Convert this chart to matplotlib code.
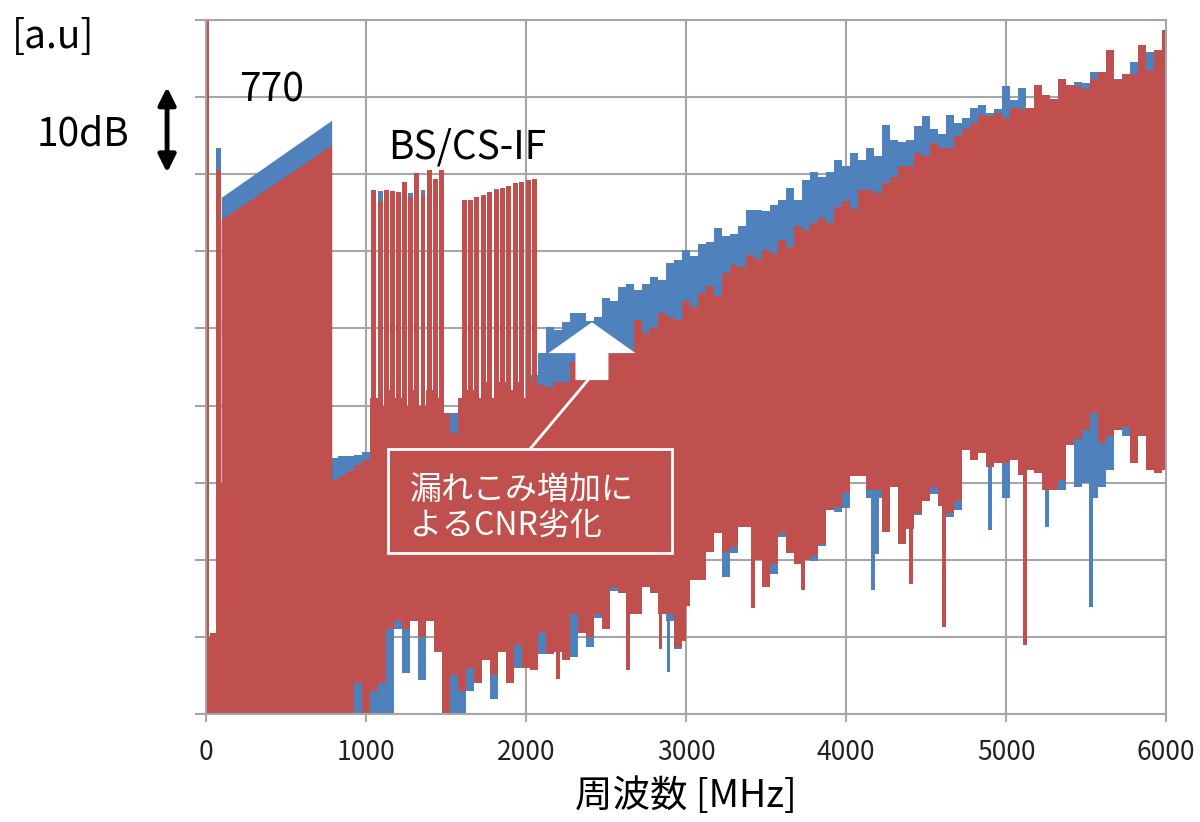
import matplotlib
matplotlib.use("Agg")
import matplotlib.pyplot as plt
import matplotlib.transforms as mtransforms
from matplotlib.patches import FancyArrow, Rectangle
import numpy as np

plt.rcParams["font.family"] = ["Noto Sans CJK JP", "DejaVu Sans"]

BLUE = "#4f81bd"
RED = "#c0504d"
GRID = "#a6a6a6"
FLOOR = -3  # fills start below the axis bottom

# broadband envelope read every 50 MHz (dB, arbitrary reference)
freq_mhz = [
    0, 50, 100, 150, 200, 250, 300, 350, 400, 450,
    500, 550, 600, 650, 700, 750, 800, 850, 900, 950,
    1000, 1050, 1100, 1150, 1200, 1250, 1300, 1350, 1400, 1450,
    1500, 1550, 1600, 1650, 1700, 1750, 1800, 1850, 1900, 1950,
    2000, 2050, 2100, 2150, 2200, 2250, 2300, 2350, 2400, 2450,
    2500, 2550, 2600, 2650, 2700, 2750, 2800, 2850, 2900, 2950,
    3000, 3050, 3100, 3150, 3200, 3250, 3300, 3350, 3400, 3450,
    3500, 3550, 3600, 3650, 3700, 3750, 3800, 3850, 3900, 3950,
    4000, 4050, 4100, 4150, 4200, 4250, 4300, 4350, 4400, 4450,
    4500, 4550, 4600, 4650, 4700, 4750, 4800, 4850, 4900, 4950,
    5000, 5050, 5100, 5150, 5200, 5250, 5300, 5350, 5400, 5450,
    5500, 5550, 5600, 5650, 5700, 5750, 5800, 5850, 5900, 5950,
    6000,
]

red_hi = [
    10, 10.5, 30, 30, 30, 30, 30, 30, 30, 30,
    30, 30, 30, 30, 30, 30, 30.3, 30.8, 31.5, 32.3,
    33, 41, 40, 42, 41, 40, 42, 40, 42, 41,
    39, 36.5, 41, 42, 41, 43, 41, 43, 42, 43,
    41, 43, 42.7, 42.4, 43, 43, 45.6, 45.4, 46, 46.4,
    46.6, 46.8, 46.8, 47.2, 51.1, 49.4, 50.2, 52, 51.5, 51.1,
    53.5, 52.8, 54.6, 55.5, 54.2, 57.2, 58.2, 58, 59.5, 59,
    60.2, 59.8, 61.5, 60.6, 63.3, 62.8, 63.7, 64.3, 63.7, 65.8,
    66.5, 65.5, 68, 68, 67.6, 68.8, 69.7, 71, 71, 72.7,
    72.3, 74, 73.4, 73.4, 74.9, 75.8, 76.6, 77.7, 77.5, 77.9,
    77.3, 78.6, 78.4, 78.6, 81.6, 80.3, 79.8, 82.4, 81.6, 81.4,
    81, 82.4, 83.2, 86.1, 82.2, 83, 83, 86.8, 83.5, 86.1,
    88.7,
]

red_lo = [
    -3, -3, -3, -3, -3, -3, -3, -3, -3, -3,
    -3, -3, -3, -3, -3, -3, -3, -3, -3, 4,
    -3, 3, 4, 11, 12, 11, 12, 10, 12, 8,
    -3, 5, 3, 6, 4, 7, 5, 8, 4, 9,
    6, 5.7, 10.5, 7.8, 8, 7, 13, 10.5, 10, 13,
    11, 16.5, 15.7, 13, 13, 16.5, 15.7, 13, 13, 8.7,
    14, 17.4, 17.4, 21, 23.5, 21, 21.7, 24.3, 24.3, 20,
    16.5, 19.4, 23.5, 20.9, 19.4, 20, 20.5, 22, 26.4, 26.8,
    28.6, 30.8, 30.8, 29, 29, 23.6, 29.5, 22.1, 24, 26,
    27.6, 29.5, 27, 26, 27.6, 34.2, 32.9, 33.8, 32, 32.5,
    32.5, 33, 31, 31.6, 31.2, 29, 29, 30.4, 34.9, 35.6,
    36.8, 39, 35.1, 36, 36.8, 37.2, 32.5, 36, 31.6, 31.2,
    31.6,
]

blue_hi = [
    9, 9.5, 30, 30, 30, 30, 30, 30, 30, 30,
    30, 30, 30, 30, 30, 30, 33.2, 33.4, 33.5, 33.6,
    34, 40, 39, 41, 40, 39, 41, 39, 41, 40,
    38, 39, 40, 41, 40, 42, 40, 42, 41, 42,
    40, 44, 46.8, 50.2, 49.8, 50.8, 52, 52, 51, 51.5,
    54, 53.6, 55.4, 55.8, 55, 55.8, 56.7, 56.3, 58.5, 58.9,
    60.2, 59.4, 61, 61.2, 63, 62, 62.3, 63.3, 65.4, 65.4,
    65.2, 66, 66.7, 68.2, 66.7, 69.2, 70.3, 69.6, 70.3, 71.8,
    71, 72.7, 71.9, 73.4, 72.3, 76.4, 74.4, 74.2, 74.4, 76.2,
    77.5, 75.8, 75.2, 77.7, 76.6, 77.3, 78.6, 79, 78, 78.4,
    81.4, 79.6, 81.2, 78.4, 79.4, 80, 79.8, 81.2, 81.2, 82,
    81.8, 83.3, 81.4, 82.7, 82.4, 83, 84.6, 83.5, 85.9, 84.6,
    85.2,
]

blue_lo = [
    -3, -3, -3, -3, -3, -3, -3, -3, -3, -3,
    -3, -3, -3, -3, -3, -3, -3, -3, -3, -3,
    -3, -3, -3, -3, 11, 5.3, 12, 4.4, 12, 8,
    -3, -3, -3, 3, 4, 7, 2, 8, 4, 6,
    6, 5.7, 7.8, 8.8, 8.5, 8, 7.4, 11.5, 8.7, 12.5,
    12, 16, 16.7, 14, 14, 17.5, 16.7, 14, 12, 8.4,
    15, 18.4, 18.4, 21.6, 24.5, 17.8, 20.9, 25.3, 25.3, 21,
    17.5, 18.2, 23, 20.9, 20.4, 20.5, 19.8, 21.8, 26.8, 26.2,
    26.7, 31.5, 31.5, 28, 28, 24.5, 30, 23, 25, 25.8,
    28.5, 28.5, 27.5, 25.6, 26.5, 35, 33.5, 34.5, 32.5, 33,
    28, 33.5, 31.5, 32, 31.2, 29.5, 29.5, 29, 35, 29.5,
    30, 28, 29.5, 31.6, 37, 36, 33, 36.5, 35, 32,
    33,
]

# narrow downward spikes below the broadband floor
red_dip_freq = [2200, 2635, 2840, 2985, 3420, 3730, 4405, 4610, 5120]
red_dip_db = [4.5, 5.7, 8.4, 9.5, 13.7, 16.1, 16.9, 11.3, 9.0]
blue_dip_freq = [2890, 4170, 4195, 4900, 5255, 5530]
blue_dip_db = [5.4, 16.1, 20.8, 23.9, 24.3, 13.9]

# 770 MHz band block (edges of the sloped plateau)
band_freq = [95, 785]
band_blue = [67.0, 77.0]
band_red = [64.1, 73.8]

# single carriers near 0 MHz
spike_freq = [8, 78]
spike_blue = [90, 73.4]
spike_red = [95, 70.6]

# BS-IF carriers
bs_freq = [1049, 1088, 1126, 1165, 1203, 1241, 1280, 1318, 1356, 1395, 1433, 1471]
bs_blue = [67.6, 67.8, 67.7, 67.5, 67.4, 68.7, 67.6, 69.8, 68.0, 70.2, 69.1, 70.2]
bs_red = [67.9, 66.5, 68.0, 67.8, 67.7, 69.0, 67.1, 70.1, 67.3, 70.5, 69.4, 70.5]

# CS-IF carriers
cs_freq = [1613, 1653, 1693, 1733, 1773, 1813, 1853, 1893, 1933, 1973, 2013, 2053]
cs_blue = [66.4, 66.4, 66.8, 67.0, 67.4, 68.1, 67.9, 68.2, 68.5, 68.7, 68.9, 69.1]
cs_red = [66.7, 66.7, 67.1, 67.3, 67.7, 67.9, 68.2, 68.5, 68.8, 69.0, 69.2, 69.4]

x_ticks = [0, 1000, 2000, 3000, 4000, 5000, 6000]
x_ticklabels = ["0", "1000", "2000", "3000", "4000", "5000", "6000"]
y_ticks = [0, 10, 20, 30, 40, 50, 60, 70, 80, 90]


def draw_series(ax, color, hi, lo, dips, band, spikes, bs, cs):
    ax.fill_between(freq_mhz, lo, hi, step="mid", color=color, lw=0)
    ax.fill_between(band_freq, FLOOR, band, color=color, lw=0)

    # dips reach from their own level up into the broadband fill
    dip_f, dip_v = np.array(dips[0]), np.array(dips[1])
    top = np.interp(dip_f, freq_mhz, lo) + 4
    ax.bar(dip_f, top - dip_v, bottom=dip_v, width=24, color=color, lw=0)

    ax.bar(spike_freq, np.array(spikes) - FLOOR, bottom=FLOOR, width=26,
           color=color, lw=0)
    # channel carriers sit on top of the floor noise
    for f, v, w in ((bs_freq, bs, 31), (cs_freq, cs, 32)):
        ax.bar(f, np.array(v) - 30, bottom=30, width=w, color=color, lw=0)


fig = plt.figure(figsize=(12, 8.22), dpi=100)
ax = fig.add_axes([0.1717, 0.1314, 0.8, 0.8443])

draw_series(ax, BLUE, blue_hi, blue_lo, (blue_dip_freq, blue_dip_db),
            band_blue, spike_blue, bs_blue, cs_blue)
draw_series(ax, RED, red_hi, red_lo, (red_dip_freq, red_dip_db),
            band_red, spike_red, bs_red, cs_red)

ax.set_xlim(0, 6000)
ax.set_ylim(0, 90)
ax.set_xticks(x_ticks)
ax.set_xticklabels(x_ticklabels, fontsize=19, color="#222222")
ax.set_yticks(y_ticks)
ax.set_yticklabels([])
ax.tick_params(axis="x", length=6, width=1.5, color=GRID, pad=12)
ax.tick_params(axis="y", length=8, width=1.5, color=GRID)
ax.grid(True, color=GRID, lw=1.5)
ax.set_axisbelow(True)
for sp in ax.spines.values():
    sp.set_color(GRID)
    sp.set_linewidth(1.5)

ax.set_xlabel("周波数 [MHz]", fontsize=27, labelpad=8)

# white block arrow marking the leakage increase
ax.add_patch(FancyArrow(2412, 43.3, 0, 7.5, width=206, head_width=544,
                        head_length=4.0, length_includes_head=True,
                        fc="white", ec="none", zorder=5))

# callout box
ax.plot([0.3375, 0.3979], [0.3818, 0.4813], transform=ax.transAxes,
        color="white", lw=2, zorder=5)
ax.add_patch(Rectangle((0.1896, 0.232), 0.2958, 0.1499, transform=ax.transAxes,
                       fc=RED, ec="white", lw=2, zorder=6))
ax.text(0.2125, 0.2968, "漏れこみ増加に\nよるCNR劣化", transform=ax.transAxes,
        fontsize=23, color="white", va="center", ha="left", linespacing=1.15,
        zorder=7)

# 10 dB scale arrow left of the axis
trans = mtransforms.blended_transform_factory(ax.transAxes, ax.transData)
ax.annotate("", xy=(-0.0406, 81.3), xytext=(-0.0406, 70.2),
            xycoords=trans, textcoords=trans, annotation_clip=False,
            arrowprops=dict(arrowstyle="<|-|>", color="black", lw=3.5,
                            mutation_scale=26, shrinkA=0, shrinkB=0))

fig.text(0.069, 0.836, "10dB", fontsize=28, ha="center", va="center")
fig.text(0.044, 0.955, "[a.u]", fontsize=28, ha="center", va="center")
fig.text(0.226, 0.8905, "770", fontsize=28, ha="center", va="center")
fig.text(0.389, 0.820, "BS/CS-IF", fontsize=28, ha="center", va="center")

fig.savefig("out.png", dpi=100)
